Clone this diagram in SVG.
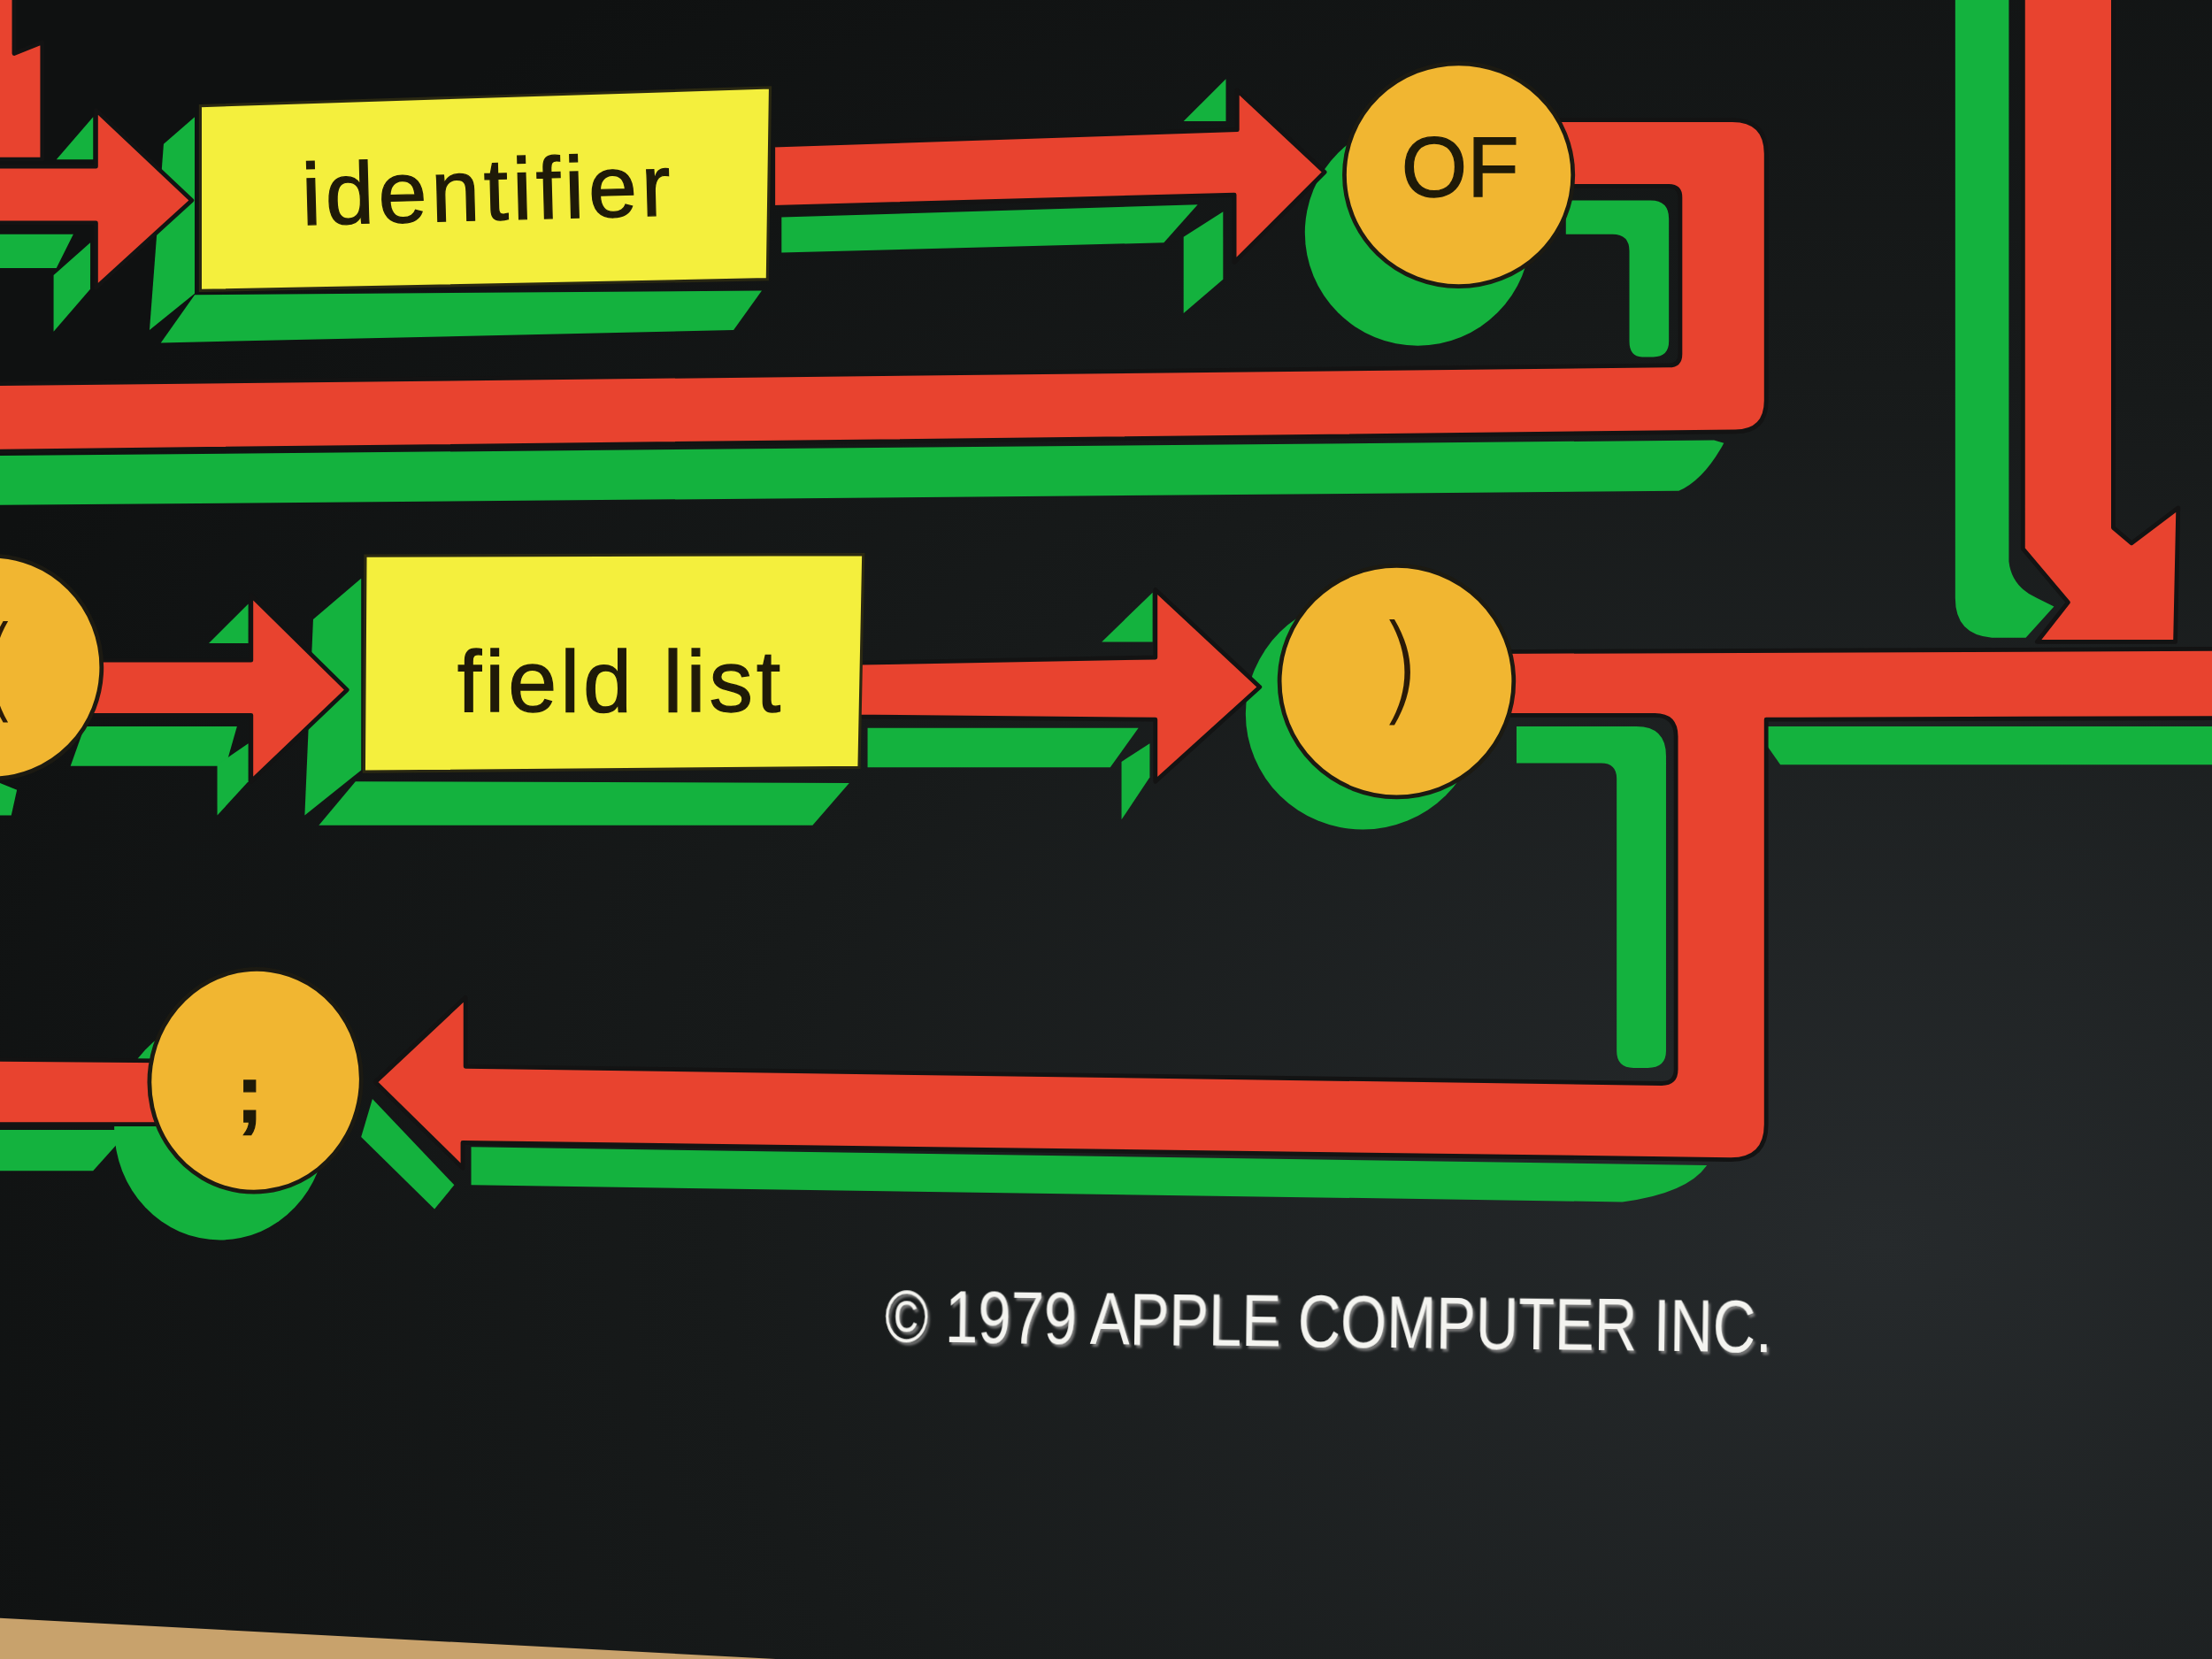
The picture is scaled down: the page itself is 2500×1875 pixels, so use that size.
<svg xmlns="http://www.w3.org/2000/svg" width="2500" height="1875" viewBox="0 0 2500 1875">
<defs>
<radialGradient id="bg" cx="0.85" cy="0.75" r="0.95">
<stop offset="0" stop-color="#262a2c"/>
<stop offset="0.55" stop-color="#171a1a"/>
<stop offset="1" stop-color="#0f1111"/>
</radialGradient>
<filter id="sh" x="-5%" y="-20%" width="110%" height="140%">
<feDropShadow dx="1.5" dy="2" stdDeviation="0.6" flood-color="#7a7a7a" flood-opacity="0.9"/>
</filter>
<style>
.r{fill:#e8432f;stroke:#131313;stroke-width:3;stroke-linejoin:round}
.g{fill:#14b23e}
.box{fill:#f4ef3d;stroke:#2a2812;stroke-width:2}
.circ{fill:#f1b631;stroke:#1c1a12;stroke-width:3}
.lbl{font-family:"Liberation Sans",Arial,sans-serif;fill:#1f1a08;stroke:#1f1a08;stroke-width:0.8;text-anchor:middle}
.thin{font-family:"DejaVu Sans",sans-serif;font-weight:200;fill:#2a1a08}
.copy{font-family:"Liberation Sans",Arial,sans-serif;fill:#f4f4f0;font-size:52px}
</style>
</defs>
<rect width="2500" height="1875" fill="url(#bg)"/>
<g transform="scale(1.59439)">
<polygon points="0,1147 550,1176 0,1176" fill="#c8a26c"/>

<g id="node-shadows">
<ellipse class="g" cx="1005" cy="165" rx="80" ry="80"/>
<ellipse class="g" cx="966" cy="506" rx="83" ry="82"/>
<ellipse class="g" cx="156" cy="800" rx="75" ry="79"/>
<polygon class="g" points="0,555 12,560 8,578 0,578"/>
<polygon class="g" points="138,209 540,206 520,234 114,243"/>
<polygon class="g" points="138,83 116,102 106,234 138,208"/>
<polygon class="g" points="252,554 602,555 576,585 226,585"/>
<polygon class="g" points="256,410 222,439 216,578 256,546"/>
</g>

<g id="connectors">
<polygon class="g" points="0,166 52,166 40,190 0,190"/>
<polygon class="g" points="66,83 40,113 66,113"/>
<polygon class="g" points="64,172 64,205 38,235 38,195"/>
<polygon class="g" points="554,154 849,145 825,172 554,179"/>
<polygon class="g" points="869,56 839,86 869,86"/>
<polygon class="g" points="867,150 867,198 839,222 839,168"/>
<path class="g" d="M1110,142 L1170,142 Q1183,142 1183,155 L1183,242 Q1183,253 1172,253 L1164,253 Q1155,253 1155,242 L1155,178 Q1155,166 1143,166 L1110,166 Z"/>
<path class="g" d="M0,323 L1215,312 L1222,314 Q1208,340 1190,348 L0,358 Z"/>
<path class="g" d="M1386,-5 L1424,-5 L1424,398 Q1426,416 1444,424 L1456,430 L1436,452 L1412,452 Q1386,450 1386,424 Z"/>
<polygon class="g" points="1243,515 1568,515 1568,542 1262,542"/>
<polygon class="g" points="60,515 168,515 160,543 50,543"/>
<polygon class="g" points="176,428 148,456 176,456"/>
<polygon class="g" points="176,527 176,554 154,578 154,542"/>
<polygon class="g" points="615,516 807,516 787,544 615,544"/>
<polygon class="g" points="817,420 781,455 817,455"/>
<polygon class="g" points="815,527 815,551 795,581 795,540"/>
<path class="g" d="M1075,515 L1160,515 Q1181,515 1181,536 L1181,745 Q1181,757 1168,757 L1158,757 Q1146,757 1146,745 L1146,552 Q1146,541 1135,541 L1075,541 Z"/>
<path class="g" d="M334,813 L1210,826 Q1196,846 1150,852 L334,840 Z"/>
<polygon class="g" points="264,779 322,840 308,857 256,806"/>
<polygon class="g" points="0,801 92,801 66,830 0,830"/>

<polygon class="r" points="-5,-5 10,-5 10,38 30,30 30,113 -5,113"/>
<polygon class="r" points="-5,118 68,118 68,78 136,142 68,204 68,158 -5,158"/>
<polygon class="r" points="548,103 877,92 877,64 939,122 875,186 875,138 548,147"/>
<path class="r" d="M1095,85 L1228,85 Q1252,85 1252,109 L1252,284 Q1252,306 1230,306 L-5,320 L-5,272 L1183,259 Q1191,259 1191,251 L1191,140 Q1191,132 1183,132 L1095,132 Z"/>
<polygon class="r" points="1434,-5 1498,-5 1498,374 1511,385 1544,360 1542,455 1444,455 1466,427 1434,389"/>
<polygon class="r" points="60,468 178,468 178,422 246,489 178,554 178,507 60,507"/>
<polygon class="r" points="600,470 819,466 819,418 893,487 819,554 819,510 600,508"/>
<path class="r" d="M1055,462 L1575,460 L1575,509 L1252,510 L1252,797 Q1252,822 1227,822 L328,810 L328,828 L266,767 L330,707 L330,756 L1178,768 Q1188,768 1188,758 L1188,522 Q1188,507 1173,507 L1055,507 Z"/>
<polygon class="r" points="-5,751 115,752 115,797 -5,797"/>
</g>

<g id="node-identifier">
<polygon class="box" points="142,75 546,62 544,198 142,206"/>
<text class="lbl" x="346" y="156" font-size="62" letter-spacing="3" transform="rotate(-1.5 346 136)">identifier</text>
</g>

<g id="node-of">
<ellipse class="circ" cx="1034" cy="124" rx="81" ry="79"/>
<text class="lbl" x="1035" y="139" font-size="60">OF</text>
</g>

<g id="node-lparen">
<ellipse class="circ" cx="-6" cy="473" rx="78" ry="79"/>
<text class="thin" x="14" y="502" font-size="80" text-anchor="end">(</text>
</g>

<g id="node-fieldlist">
<polygon class="box" points="259,394 612,393 609,544 258,547"/>
<text class="lbl" x="440" y="504" font-size="62" letter-spacing="2.5">field list</text>
</g>

<g id="node-rparen">
<ellipse class="circ" cx="990" cy="483" rx="83" ry="82"/>
<text class="thin" x="992" y="503" font-size="84" text-anchor="middle">)</text>
</g>

<g id="node-semicolon">
<ellipse class="circ" cx="181" cy="766" rx="75" ry="79" transform="rotate(8 181 766)"/>
<text class="lbl" x="177" y="795" font-size="58" font-weight="bold">;</text>
</g>

<text class="copy" x="627" y="951" textLength="629" lengthAdjust="spacingAndGlyphs" filter="url(#sh)" transform="rotate(0.7 627 951)">© 1979 APPLE COMPUTER INC.</text>
</g>
</svg>
